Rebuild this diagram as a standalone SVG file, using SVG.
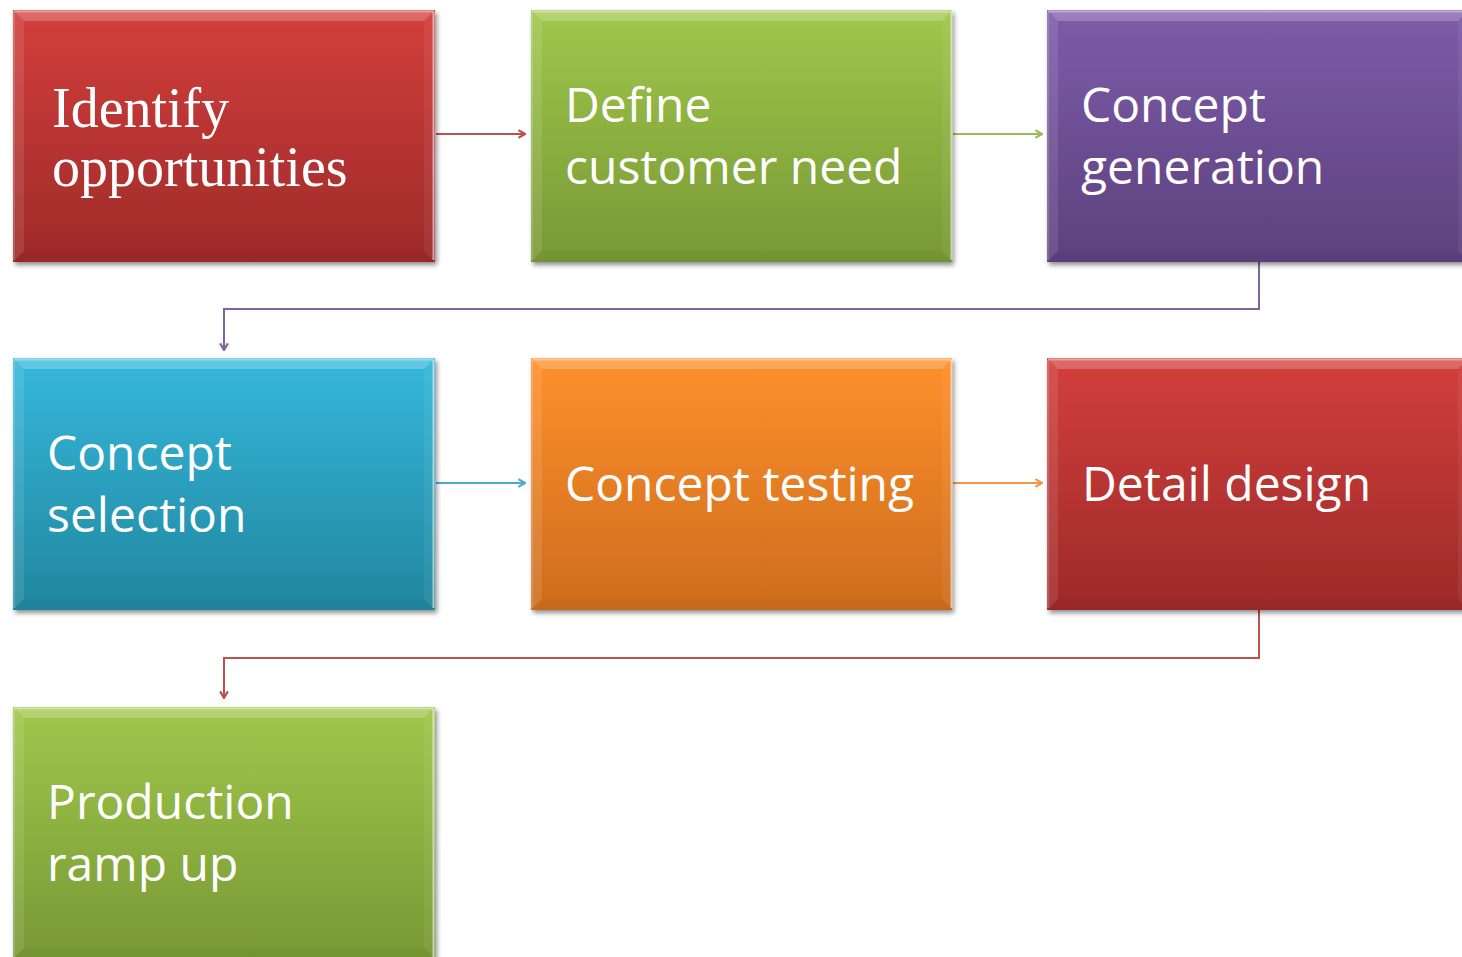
<svg xmlns="http://www.w3.org/2000/svg" xmlns:xlink="http://www.w3.org/1999/xlink" width="1462" height="957" viewBox="0 0 1462 957">
  <style>
    .lbl { font-family: "Open Sans", "Noto Sans", sans-serif; font-size: 48px; fill: #ffffff; }
    .serif { font-family: "Liberation Serif", "Times New Roman", serif; font-size: 56px; fill: #ffffff; }
    .conn { fill: none; stroke-width: 2; }
  </style>
  <defs>
    <linearGradient id="gRed" x1="0" y1="0" x2="0" y2="1">
      <stop offset="0" stop-color="#d33f3c"/>
      <stop offset="1" stop-color="#9d2a29"/>
    </linearGradient>
    <linearGradient id="gGreen" x1="0" y1="0" x2="0" y2="1">
      <stop offset="0" stop-color="#a0c74b"/>
      <stop offset="1" stop-color="#789835"/>
    </linearGradient>
    <linearGradient id="gPurple" x1="0" y1="0" x2="0" y2="1">
      <stop offset="0" stop-color="#7d5ca9"/>
      <stop offset="1" stop-color="#5c417d"/>
    </linearGradient>
    <linearGradient id="gBlue" x1="0" y1="0" x2="0" y2="1">
      <stop offset="0" stop-color="#36b8dc"/>
      <stop offset="1" stop-color="#21869e"/>
    </linearGradient>
    <linearGradient id="gOrange" x1="0" y1="0" x2="0" y2="1">
      <stop offset="0" stop-color="#ff902b"/>
      <stop offset="1" stop-color="#cd6c1e"/>
    </linearGradient>
    <filter id="shadow" x="-5%" y="-5%" width="112%" height="115%">
      <feGaussianBlur in="SourceAlpha" stdDeviation="2.5"/>
      <feOffset dx="2" dy="3" result="b"/>
      <feComponentTransfer><feFuncA type="linear" slope="0.45"/></feComponentTransfer>
      <feMerge><feMergeNode/><feMergeNode in="SourceGraphic"/></feMerge>
    </filter>
    <!-- bevel overlay for a 422x252 box -->
    <g id="bevel">
      <polygon points="0,0 422,0 411,11 11,11" fill="#ffffff" fill-opacity="0.22"/>
      <polygon points="0,0 11,11 11,241 0,252" fill="#ffffff" fill-opacity="0.1"/>
      <polygon points="422,0 422,252 411,241 411,11" fill="#ffffff" fill-opacity="0.06"/>
      <polygon points="0,252 11,241 411,241 422,252" fill="#000000" fill-opacity="0.03"/>
      <line x1="1" y1="1.5" x2="421" y2="1.5" stroke="#ffffff" stroke-opacity="0.35" stroke-width="2"/>
      <line x1="420.5" y1="2" x2="420.5" y2="250" stroke="#ffffff" stroke-opacity="0.55" stroke-width="2"/>
      <line x1="1" y1="2" x2="1" y2="250" stroke="#ffffff" stroke-opacity="0.15" stroke-width="2"/>
    </g>
    <marker id="aRed" viewBox="0 0 10 10" refX="9" refY="5" markerWidth="11" markerHeight="11" orient="auto" markerUnits="userSpaceOnUse">
      <path d="M3,1.5 L9,5 L3,8.5" fill="none" stroke="#c0504d" stroke-width="2"/>
    </marker>
    <marker id="aGreen" viewBox="0 0 10 10" refX="9" refY="5" markerWidth="11" markerHeight="11" orient="auto" markerUnits="userSpaceOnUse">
      <path d="M3,1.5 L9,5 L3,8.5" fill="none" stroke="#9bbb59" stroke-width="2"/>
    </marker>
    <marker id="aPurple" viewBox="0 0 10 10" refX="9" refY="5" markerWidth="11" markerHeight="11" orient="auto" markerUnits="userSpaceOnUse">
      <path d="M3,1.5 L9,5 L3,8.5" fill="none" stroke="#8064a2" stroke-width="2"/>
    </marker>
    <marker id="aBlue" viewBox="0 0 10 10" refX="9" refY="5" markerWidth="11" markerHeight="11" orient="auto" markerUnits="userSpaceOnUse">
      <path d="M3,1.5 L9,5 L3,8.5" fill="none" stroke="#4bacc6" stroke-width="2"/>
    </marker>
    <marker id="aOrange" viewBox="0 0 10 10" refX="9" refY="5" markerWidth="11" markerHeight="11" orient="auto" markerUnits="userSpaceOnUse">
      <path d="M3,1.5 L9,5 L3,8.5" fill="none" stroke="#f79646" stroke-width="2"/>
    </marker>
  </defs>

  <rect width="1462" height="957" fill="#ffffff"/>

  <g id="connectors">
    <path class="conn" d="M436,134 H525" stroke="#c0504d" marker-end="url(#aRed)"/>
    <path class="conn" d="M953,134 H1042" stroke="#9bbb59" marker-end="url(#aGreen)"/>
    <path class="conn" d="M1259,262 V309 H224 V350" stroke="#8064a2" marker-end="url(#aPurple)"/>
    <path class="conn" d="M436,483 H525" stroke="#4bacc6" marker-end="url(#aBlue)"/>
    <path class="conn" d="M953,483 H1042" stroke="#f79646" marker-end="url(#aOrange)"/>
    <path class="conn" d="M1259,610 V658 H224 V698" stroke="#c0504d" marker-end="url(#aRed)"/>
  </g>

  <g id="identify-opportunities" transform="translate(13,10)">
    <rect width="422" height="252" fill="url(#gRed)" filter="url(#shadow)"/>
    <use href="#bevel"/>
    <text class="serif" x="39" y="117">Identify</text>
    <text class="serif" x="39" y="176">opportunities</text>
  </g>

  <g id="define-customer-need" transform="translate(531,10)">
    <rect width="421" height="252" fill="url(#gGreen)" filter="url(#shadow)"/>
    <use href="#bevel"/>
    <text class="lbl" x="34" y="112">Define</text>
    <text class="lbl" x="34" y="174">customer need</text>
  </g>

  <g id="concept-generation" transform="translate(1047,10)">
    <rect width="422" height="252" fill="url(#gPurple)" filter="url(#shadow)"/>
    <use href="#bevel"/>
    <text class="lbl" x="34" y="112">Concept</text>
    <text class="lbl" x="34" y="174">generation</text>
  </g>

  <g id="concept-selection" transform="translate(13,358)">
    <rect width="422" height="252" fill="url(#gBlue)" filter="url(#shadow)"/>
    <use href="#bevel"/>
    <text class="lbl" x="34" y="112">Concept</text>
    <text class="lbl" x="34" y="174">selection</text>
  </g>

  <g id="concept-testing" transform="translate(531,358)">
    <rect width="421" height="252" fill="url(#gOrange)" filter="url(#shadow)"/>
    <use href="#bevel"/>
    <text class="lbl" x="34" y="143">Concept testing</text>
  </g>

  <g id="detail-design" transform="translate(1047,358)">
    <rect width="422" height="252" fill="url(#gRed)" filter="url(#shadow)"/>
    <use href="#bevel"/>
    <text class="lbl" x="35" y="143">Detail design</text>
  </g>

  <g id="production-ramp-up" transform="translate(13,707)">
    <rect width="422" height="252" fill="url(#gGreen)" filter="url(#shadow)"/>
    <use href="#bevel"/>
    <text class="lbl" x="34" y="112">Production</text>
    <text class="lbl" x="34" y="174">ramp up</text>
  </g>
</svg>
